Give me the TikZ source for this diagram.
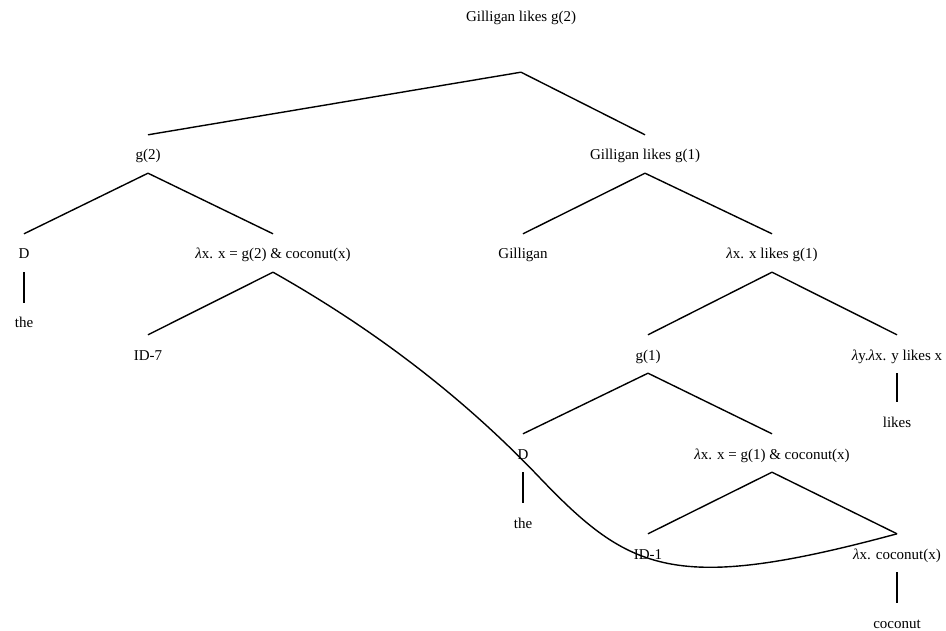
\documentclass[tikz,border=0pt]{standalone}
\usepackage{fontspec}
\setmainfont{Liberation Serif}
\usepackage{tikz}

\newcommand{\lam}{\textit{λ}}

\begin{document}
\begin{tikzpicture}[
    x=1pt, y=-1pt,
    word/.style={anchor=base, inner xsep=2pt, inner ysep=10pt, text height=15pt, text depth=3pt},
    topword/.style={word, text depth=40pt},
    branch/.style={line width=1.4pt},
    every node/.style={font=\fontsize{15}{18}\selectfont}
]
\useasboundingbox (0,0) rectangle (946,631);

% Root
\node[topword] (root) at (521,22) {Gilligan likes g(2)};

% Subject DP
\node[word] (gtwo) at (148,160) {g(2)};
\node[word] (dleft) at (24,259) {D};
\node[word] (theleft) at (24,328) {the};
\node[word] (restrtwo) at (273,259) {\lam x. x = g(2) \& coconut(x)};
\node[word] (idseven) at (148,360) {ID-7};

% Clause
\node[word] (clause) at (645,160) {Gilligan likes g(1)};
\node[word] (gilligan) at (523,259) {Gilligan};
\node[word] (vp) at (772,259) {\lam x. x likes g(1)};
\node[word] (gone) at (648,360) {g(1)};
\node[word] (verb) at (897,360) {\lam y.\lam x. y likes x};
\node[word] (likes) at (897,427) {likes};

% Object DP
\node[word] (dright) at (523,459) {D};
\node[word] (theright) at (523,528) {the};
\node[word] (restrone) at (772,459) {\lam x. x = g(1) \& coconut(x)};
\node[word] (idone) at (648,559) {ID-1};
\node[word] (noun) at (897,559) {\lam x. coconut(x)};
\node[word] (coconut) at (897,628) {coconut};

% Branches
\foreach \p/\c in {root/gtwo, root/clause, gtwo/dleft, gtwo/restrtwo, dleft/theleft,
                   restrtwo/idseven, clause/gilligan, clause/vp, vp/gone, vp/verb,
                   verb/likes, gone/dright, gone/restrone, dright/theright,
                   restrone/idone, restrone/noun, noun/coconut}
    \draw[branch] (\p.south) -- (\c.north);

% Movement
\coordinate (bend) at (540,478);
\draw[branch] (restrtwo.south) .. controls +(101,57) and +(-77,-81) .. (bend)
    .. controls +(90,94) and +(-222,60) .. (noun.north);

\end{tikzpicture}
\end{document}
